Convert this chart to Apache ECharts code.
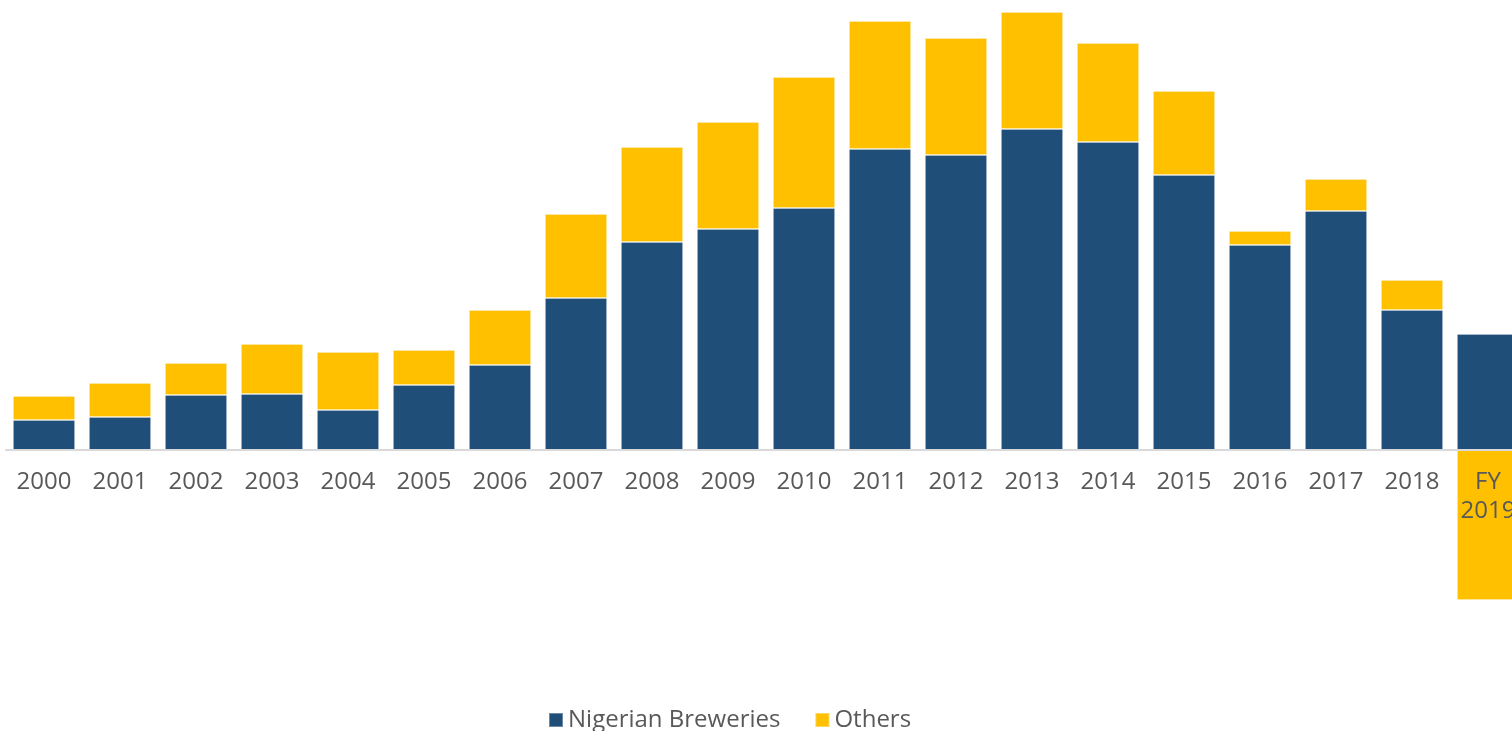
<!DOCTYPE html>
<html>
<head>
<meta charset="utf-8">
<script src="https://cdn.jsdelivr.net/npm/echarts@6/dist/echarts.min.js"></script>
<style>
html,body{margin:0;padding:0;background:#fff;}
#chart{width:1512px;height:731px;}
</style>
</head>
<body>
<div id="chart"></div>
<script>
const categories = ['2000','2001','2002','2003','2004','2005','2006','2007','2008','2009','2010','2011','2012','2013','2014','2015','2016','2017','2018','FY\n2019'];
const nigerianBreweries = [3.0,3.3,5.5,5.6,4.0,6.5,8.5,15.2,20.8,22.1,24.2,30.1,29.5,32.1,30.8,27.5,20.5,23.9,14.0,11.6];
const others = [2.4,3.4,3.2,5.0,5.8,3.5,5.5,8.4,9.5,10.7,13.1,12.8,11.7,11.7,9.9,8.4,1.4,3.2,3.0,-15.0];

const chart = echarts.init(document.getElementById('chart'));
const font = '"Open Sans", "DejaVu Sans", sans-serif';
chart.setOption({
  animation: false,
  grid: {left: 6, width: 1520, top: 0, height: 450, containLabel: false, outerBoundsMode: 'none'},
  legend: {
    left: 543, top: 703,
    itemWidth: 14, itemHeight: 14, itemGap: 34,
    icon: 'rect',
    textStyle: {fontFamily: font, fontSize: 24, color: '#595959', padding: [0,0,0,0]},
    data: ['Nigerian Breweries', 'Others']
  },
  xAxis: {
    type: 'category',
    data: categories,
    z: 5,
    axisLine: {onZero: true, lineStyle: {color: '#d9d9d9', width: 2}},
    axisTick: {show: false},
    axisLabel: {fontFamily: font, fontSize: 24, color: '#595959', margin: 18, lineHeight: 29, interval: 0}
  },
  yAxis: {
    type: 'value', min: 0, max: 45, show: false,
    splitLine: {show: false}
  },
  series: [
    {
      name: 'Nigerian Breweries', type: 'bar', stack: 'total', barWidth: 62, clip: false,
      data: nigerianBreweries,
      itemStyle: {color: '#1F4E79', borderColor: 'rgba(255,255,255,0.35)', borderWidth: 0.8}
    },
    {
      name: 'Others', type: 'bar', stack: 'total', barWidth: 62, clip: false,
      data: others,
      itemStyle: {color: '#FFC000', borderColor: 'rgba(255,255,255,0.35)', borderWidth: 0.8}
    }
  ]
});
</script>
</body>
</html>
